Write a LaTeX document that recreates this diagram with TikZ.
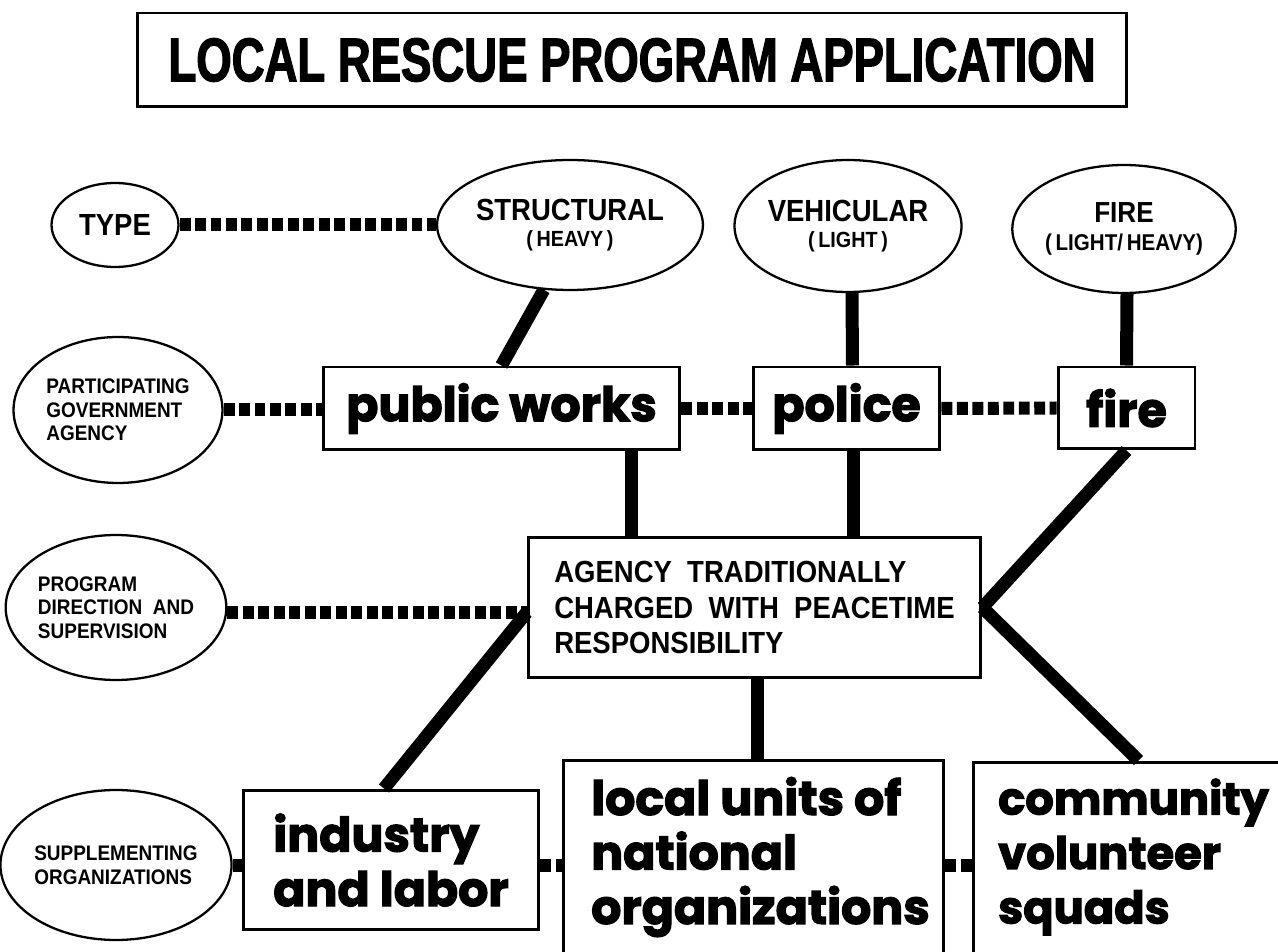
\documentclass[tikz,border=0pt]{standalone}
\usepackage{fontspec}
\usetikzlibrary{shapes.geometric,calc}

\newfontfamily\titlefont{Liberation Sans}[FakeStretch=0.74,FakeBold=2]
\newfontfamily\capsfont{Liberation Sans}[FakeStretch=0.9]
\newfontfamily\heavyfont{Poppins}[FakeBold=2.5]

\tikzset{
  oval/.style={ellipse, draw, line width=1.3pt, inner sep=0pt},
  box/.style={rectangle, draw, line width=1.7pt, inner sep=0pt},
  link/.style={line width=7.4pt},
  tie/.style={line width=7.4pt, dash pattern=on 6.2pt off 2.6pt},
  bigcaps/.style={font=\capsfont\bfseries\fontsize{17.4}{20}\selectfont},
  smallcaps/.style={font=\capsfont\bfseries\fontsize{12}{13.5}\selectfont, align=left},
  heavy/.style={font=\heavyfont\bfseries\fontsize{27}{31}\selectfont},
}

\begin{document}
\begin{tikzpicture}[x=0.02cm, y=-0.02cm]
  \path[use as bounding box, clip] (0,0) rectangle (1278,952);

  % title
  \node[box, minimum width=19.8cm, minimum height=1.88cm,
        font=\titlefont\bfseries\fontsize{35}{40}\selectfont] (title) at (632,60)
        {LOCAL RESCUE PROGRAM APPLICATION};

  % type row
  \node[oval, minimum width=2.54cm, minimum height=1.68cm, bigcaps] (type) at (115,225) {TYPE};
  \node[oval, minimum width=4.28cm, minimum height=2.6cm, bigcaps, align=center] (struct) at (570,225)
        {STRUCTURAL\\[-5pt]{\fontsize{12.5}{13}\selectfont(\,HEAVY\,)}};
  \node[oval, minimum width=4.1cm, minimum height=2.64cm, bigcaps, align=center] (vehic) at (848,226)
        {VEHICULAR\\[-5pt]{\fontsize{12.5}{13}\selectfont(\,LIGHT\,)}};
  \node[oval, minimum width=4.1cm, minimum height=2.56cm, bigcaps, align=center] (fireT) at (1124,229)
        {{\fontsize{16.5}{18}\selectfont FIRE}\\[-4pt]{\fontsize{13}{14}\selectfont(\,LIGHT/\,HEAVY)}};

  % agency row
  \node[oval, minimum width=4.18cm, minimum height=2.92cm, smallcaps] (partic) at (118,410)
        {PARTICIPATING\\GOVERNMENT\\AGENCY};
  \node[box, minimum width=7.14cm, minimum height=1.66cm, heavy] (pubworks) at (501.5,408.5) {public works};
  \node[box, minimum width=3.74cm, minimum height=1.66cm, heavy] (police) at (846.5,408.5) {police};
  \node[box, minimum width=2.74cm, minimum height=1.64cm, heavy] (fire) at (1126.5,408) {fire};

  % direction row
  \node[oval, minimum width=4.16cm, minimum height=2.9cm, smallcaps] (program) at (116,607.5)
        {PROGRAM\\DIRECTION\ \ AND\\SUPERVISION};
  \node[box, minimum width=9.06cm, minimum height=2.82cm, bigcaps, align=left] (agency) at (754.5,607.5)
        {AGENCY\ \ TRADITIONALLY\\CHARGED\ \ WITH\ \ PEACETIME\\RESPONSIBILITY};

  % supplementing row
  \node[oval, minimum width=4.24cm, minimum height=3cm, smallcaps] (suppl) at (116,865)
        {SUPPLEMENTING\\ORGANIZATIONS};
  \node[box, minimum width=5.92cm, minimum height=2.8cm, heavy, align=left] (industry) at (391,860)
        {industry\\and labor};
  \node[box, minimum width=7.62cm, minimum height=4.4cm] (local) at (753.5,870) {};
  \node[heavy, align=left, anchor=west] (localtext) at (585,857)
        {local units of\\national\\organizations};
  \node[box, minimum width=6.94cm, minimum height=4.46cm] (comm) at (1146.5,873.5) {};
  \node[heavy, font=\heavyfont\bfseries\fontsize{25.5}{31}\selectfont, align=left, anchor=west] (commtext) at (992,857)
        {community\\volunteer\\squads};

  % dotted ties
  \draw[tie] (type.east) -- (struct.west);
  \draw[tie] (partic.east) -- (partic.east -| pubworks.west);
  \draw[tie] (pubworks.east) -- (police.west);
  \draw[tie] (police.east) -- (fire.west);
  \draw[tie] ($(program.east)+(0,5)$) -- ($(program.east -| agency.west)+(0,5)$);
  \draw[tie] (suppl.east) -- (suppl.east -| industry.west);
  \draw[tie] (industry.east |- suppl.east) -- (suppl.east -| local.west);
  \draw[tie] (local.east |- suppl.east) -- (suppl.east -| comm.west);

  % solid links
  \draw[link] (struct.-112) -- (pubworks.north);
  \draw[link] ($(vehic.south)+(4,0)$) -- ($(police.north)+(6,0)$);
  \draw[link] ($(fireT.south)+(3,0)$) -- (fire.north);
  \draw[link] ($(pubworks.south west)!0.86!(pubworks.south east)$) -- ++(0,87);
  \draw[link] ($(police.south)+(7,0)$) -- ($(police.south |- agency.north)+(7,0)$);
  \draw[link] (fire.south) -- (agency.east);
  \draw[link] ($(agency.west)+(0,5)$) -- ($(industry.north)+(-7,0)$);
  \draw[link] ($(agency.south)+(3,0)$) -- ($(local.north)+(4,0)$);
  \draw[link] (agency.east) -- ($(comm.north west)+(167,0)$);
\end{tikzpicture}
\end{document}
